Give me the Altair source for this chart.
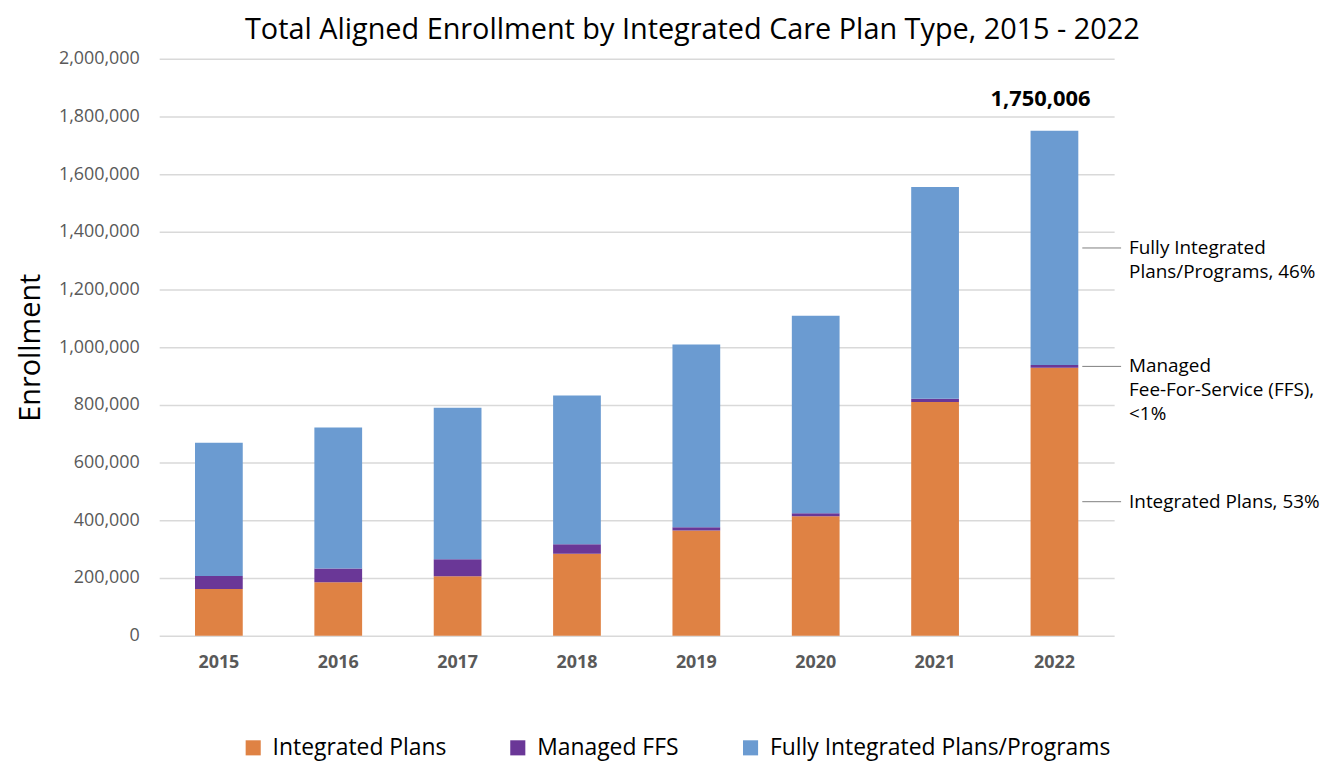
import altair as alt
import pandas as pd

years = ["2015", "2016", "2017", "2018", "2019", "2020", "2021", "2022"]
integrated = [162000, 185000, 206000, 284000, 365000, 414000, 810000, 929000]
managed = [45000, 48000, 59000, 33000, 11000, 10000, 11000, 9000]
fully = [462000, 489000, 525000, 516000, 633000, 685000, 734000, 812006]
series = ["Integrated Plans", "Managed FFS", "Fully Integrated Plans/Programs"]
colors = ["#DF8244", "#6A3797", "#6B9BD1"]
ann_labels = [
    ["Integrated Plans, 53%"],
    ["Managed", "Fee-For-Service (FFS),", "<1%"],
    ["Fully Integrated", "Plans/Programs, 46%"],
]
y_ticks = [0, 200000, 400000, 600000, 800000, 1000000, 1200000, 1400000, 1600000, 1800000, 2000000]

rows = []
for i, y in enumerate(years):
    for k, (s, vals) in enumerate(zip(series, [integrated, managed, fully])):
        rows.append({"year": y, "series": s, "value": vals[i], "order": k})
df = pd.DataFrame(rows)

total_2022 = integrated[-1] + managed[-1] + fully[-1]
df_total = pd.DataFrame({"year": [years[-1]], "total": [total_2022]})

b0 = 0
b1 = integrated[-1]
b2 = b1 + managed[-1]
b3 = b2 + fully[-1]
mids = [(b0 + b1) / 2, (b1 + b2) / 2, (b2 + b3) / 2]
df_ann = pd.DataFrame({"mid": mids, "label": ann_labels})

FONT = "Open Sans"

x_enc = alt.X(
    "year:N",
    sort=years,
    scale=alt.Scale(paddingInner=0.6, paddingOuter=0.3),
    axis=alt.Axis(
        title=None, labelAngle=0, labelFontWeight="bold", labelFontSize=18,
        labelColor="#595959", labelPadding=18, ticks=False, domain=False,
        labelFont=FONT,
    ),
)

bars = alt.Chart(df).mark_bar().encode(
    x=x_enc,
    y=alt.Y(
        "value:Q",
        stack="zero",
        scale=alt.Scale(domain=[0, 2000000]),
        axis=alt.Axis(
            title="Enrollment", titleFontSize=29, titleFontWeight="normal",
            titleColor="#000000", titlePadding=13, titleFont=FONT,
            values=y_ticks, format=",d", labelFontSize=18, labelColor="#595959",
            labelPadding=20, ticks=False, domain=False, labelFont=FONT,
            gridColor="#d9d9d9", gridWidth=1.5,
        ),
    ),
    color=alt.Color(
        "series:N",
        scale=alt.Scale(domain=series, range=colors),
        legend=alt.Legend(
            title=None, orient="none", direction="horizontal", legendX=83,
            legendY=681, symbolType="square", symbolSize=230,
            symbolStrokeWidth=0, labelFontSize=23, labelFont=FONT,
            labelColor="#000000", columnPadding=60, labelOffset=8,
            labelLimit=600,
        ),
    ),
    order=alt.Order("order:Q"),
)

total_text = alt.Chart(df_total).mark_text(
    dy=-32, dx=-14, fontSize=22, fontWeight="bold", font=FONT, color="#000000"
).encode(
    x=alt.X("year:N", sort=years),
    y=alt.Y("total:Q"),
    text=alt.Text("total:Q", format=",d"),
)

ann_rules = alt.Chart(df_ann).mark_rule(color="#7f7f7f", strokeWidth=1).encode(
    x=alt.value(928), x2=alt.value(967), y=alt.Y("mid:Q")
)

ann_text = alt.Chart(df_ann).mark_text(
    align="left", baseline="middle", fontSize=19, font=FONT, color="#000000",
    lineHeight=24,
).encode(
    x=alt.value(975), y=alt.Y("mid:Q"), text="label"
)

chart = alt.layer(bars, total_text, ann_rules, ann_text).properties(
    width=960,
    height=580,
    padding={"left": 8, "top": 6, "right": 5, "bottom": 5},
    title=alt.TitleParams(
        "Total Aligned Enrollment by Integrated Care Plan Type, 2015 - 2022",
        fontSize=29, fontWeight="normal", font=FONT, color="#000000",
        anchor="middle", dx=56, offset=5,
    ),
).configure_view(stroke=None)

chart.save("out.html", embed_options={"renderer": "svg", "actions": False})
